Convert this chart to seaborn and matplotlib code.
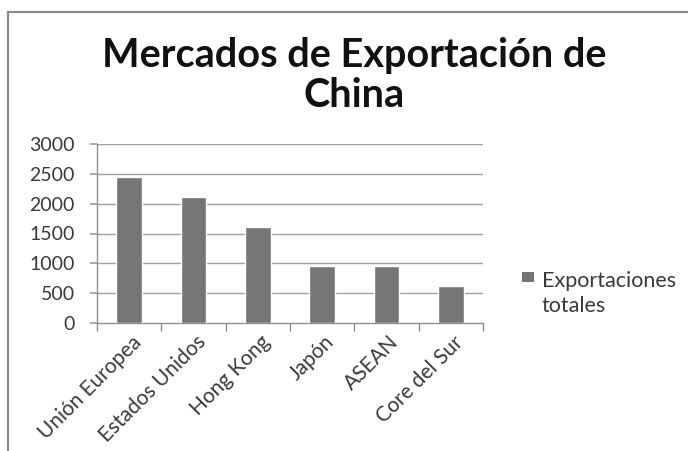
import matplotlib
matplotlib.use("Agg")
import matplotlib.pyplot as plt
import matplotlib.transforms as mtransforms
import seaborn as sns
import pandas as pd
from matplotlib.lines import Line2D
from matplotlib.patches import Rectangle

categories = ["Unión Europea", "Estados Unidos", "Hong Kong", "Japón", "ASEAN", "Core del Sur"]
values = [2445, 2120, 1605, 955, 955, 620]
yticks = [0, 500, 1000, 1500, 2000, 2500, 3000]
series_lines = ["Exportaciones", "totales"]
title_lines = ["Mercados de Exportación de", "China"]

sns.set_theme(style="white")
plt.rcParams["font.family"] = ["Lato", "DejaVu Sans"]

df = pd.DataFrame({"cat": categories, "val": values})

W, H = 688, 451
TXT = "#3a3a3a"
BAR = "#767676"
fig = plt.figure(figsize=(W / 100, H / 100), dpi=100)
ax = fig.add_axes([97 / W, 1 - 323 / H, (483 - 97) / W, (323 - 144) / H])

sns.barplot(data=df, x="cat", y="val", color=BAR, width=0.4, saturation=1, ax=ax, zorder=3)

ax.set_ylim(0, 3000)
ax.set_xlim(-0.5, len(categories) - 0.5)
ax.set_yticks(yticks)
ax.set_yticklabels([str(v) for v in yticks], fontsize=14, color=TXT)
ax.grid(False)
for y in yticks[1:]:
    ax.axhline(y, color="#a0a0a0", lw=1.0, zorder=1)
ax.set_xlabel("")
ax.set_ylabel("")
ax.set_xticks(range(len(categories)))
ax.set_xticklabels(categories, rotation=45, ha="right", va="top", rotation_mode="anchor",
                   fontsize=15, color=TXT)
ax.tick_params(axis="x", which="major", length=0, pad=0)
ax.tick_params(axis="y", length=5, left=True, color="#a0a0a0", pad=11)
offset = mtransforms.ScaledTranslation(2 / 100, -9 / 100, fig.dpi_scale_trans)
for lbl in ax.get_xticklabels():
    lbl.set_transform(lbl.get_transform() + offset)
ax.set_xticks([i - 0.5 for i in range(len(categories) + 1)], minor=True)
ax.tick_params(axis="x", which="minor", length=6, bottom=True, color="#909090")
for s in ["top", "right"]:
    ax.spines[s].set_visible(False)
for s in ["left", "bottom"]:
    ax.spines[s].set_color("#909090")
    ax.spines[s].set_linewidth(1.0)

# title (two centered lines)
fig.text(354 / W, 1 - 67 / H, title_lines[0], ha="center", va="baseline", fontsize=28.5,
         fontweight="bold", color="#111111")
fig.text(354 / W, 1 - 107 / H, title_lines[1], ha="center", va="baseline", fontsize=28.5,
         fontweight="bold", color="#111111")

# legend
fig.patches.append(Rectangle((522 / W, 1 - 282 / H), 12 / W, 10 / H, transform=fig.transFigure,
                             facecolor=BAR, edgecolor="none"))
fig.text(542 / W, 1 - 287 / H, series_lines[0], ha="left", va="baseline", fontsize=15.5, color=TXT)
fig.text(542 / W, 1 - 312 / H, series_lines[1], ha="left", va="baseline", fontsize=15.5, color=TXT)

# outer border (top and left visible)
fig.lines.append(Line2D([8 / W, 1], [1 - 12 / H, 1 - 12 / H], transform=fig.transFigure,
                        color="#8a8a8a", lw=1.6))
fig.lines.append(Line2D([8 / W, 8 / W], [0, 1 - 12 / H], transform=fig.transFigure,
                        color="#8a8a8a", lw=1.6))

fig.savefig("out.png", dpi=100)
